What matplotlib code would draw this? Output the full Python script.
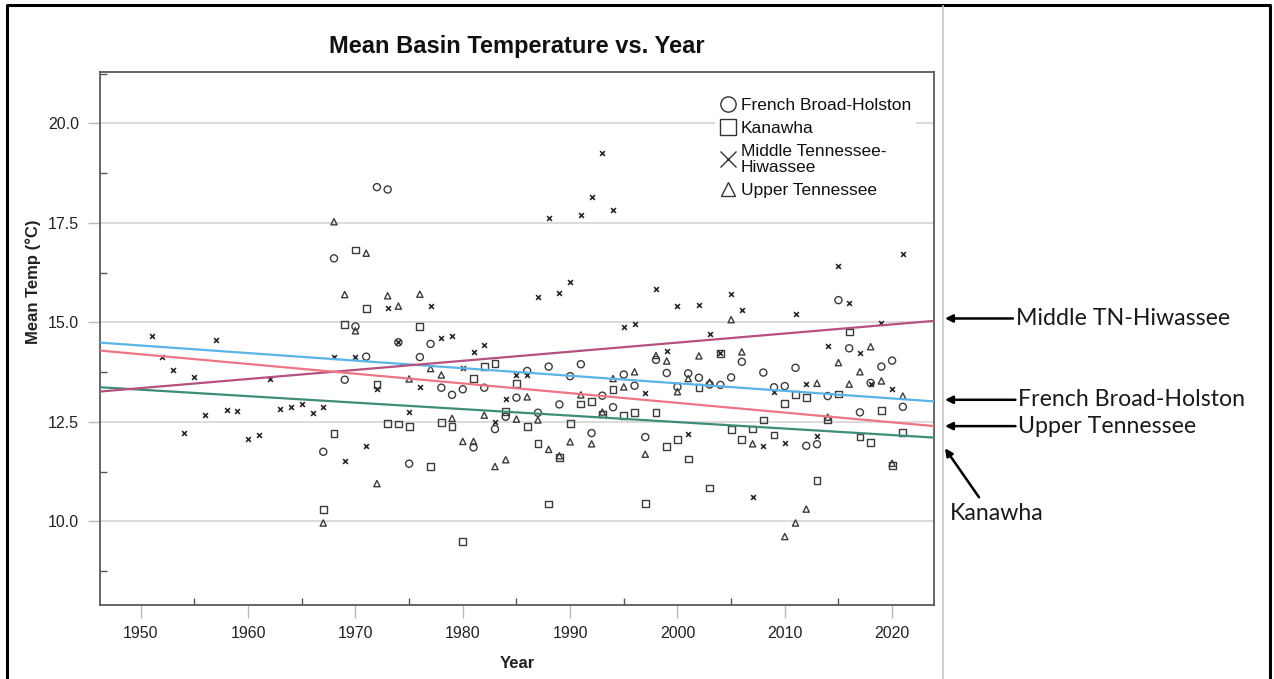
import numpy as np
import matplotlib
matplotlib.use("Agg")
import matplotlib.pyplot as plt
from matplotlib.lines import Line2D
from matplotlib.ticker import MultipleLocator

# values (year, mean temp in deg C)
fbh_years = [1967, 1968, 1969, 1970, 1971, 1972, 1973, 1974, 1975, 1976, 1977, 1978,
             1979, 1980, 1981, 1982, 1983, 1984, 1985, 1986, 1987, 1988, 1989, 1990,
             1991, 1992, 1993, 1994, 1995, 1996, 1997, 1998, 1999, 2000, 2001, 2002,
             2003, 2004, 2005, 2006, 2008, 2009, 2010, 2011, 2012, 2013, 2014, 2015,
             2016, 2017, 2018, 2019, 2020, 2021]
fbh_temp = [11.75, 16.61, 13.56, 14.90, 14.14, 18.40, 18.34, 14.50, 11.45, 14.13, 14.46, 13.36,
            13.18, 13.32, 11.86, 13.36, 12.32, 12.63, 13.11, 13.78, 12.73, 13.89, 12.94, 13.65,
            13.95, 12.22, 13.16, 12.87, 13.69, 13.41, 12.12, 14.06, 13.73, 13.38, 13.72, 13.61,
            13.44, 13.43, 13.62, 14.01, 13.74, 13.37, 13.40, 13.86, 11.90, 11.94, 13.15, 15.56,
            14.35, 12.74, 13.48, 13.89, 14.04, 12.88]

kan_years = [1967, 1968, 1969, 1970, 1971, 1972, 1973, 1974, 1975, 1976, 1977, 1978,
             1979, 1980, 1981, 1982, 1983, 1984, 1985, 1986, 1987, 1988, 1989, 1990,
             1991, 1992, 1993, 1994, 1995, 1996, 1997, 1998, 1999, 2000, 2001, 2002,
             2003, 2004, 2005, 2006, 2007, 2008, 2009, 2010, 2011, 2012, 2013, 2014,
             2015, 2016, 2017, 2018, 2019, 2020, 2021]
kan_temp = [10.29, 12.20, 14.95, 16.82, 15.35, 13.45, 12.46, 12.45, 12.38, 14.89, 11.38, 12.48,
            12.38, 9.50, 13.60, 13.90, 13.97, 12.77, 13.46, 12.38, 11.96, 10.44, 11.61, 12.47,
            12.95, 13.02, 12.70, 13.31, 12.67, 12.74, 10.46, 12.73, 11.88, 12.05, 11.57, 13.36,
            10.84, 14.22, 12.30, 12.05, 12.32, 12.55, 12.17, 12.97, 13.19, 13.12, 11.03, 12.57,
            13.20, 14.76, 12.12, 11.98, 12.78, 11.40, 12.23]

mth_years = list(range(1951, 2022))
mth_temp = [14.66, 14.12, 13.80, 12.21, 13.64, 12.68, 14.55, 12.81, 12.78, 12.06, 12.17, 13.58,
            12.82, 12.87, 12.95, 12.72, 12.87, 14.12, 11.52, 14.12, 11.89, 13.32, 15.37, 14.50,
            12.74, 13.39, 15.42, 14.60, 14.66, 13.86, 14.25, 14.43, 12.50, 13.07, 13.68, 13.68,
            15.65, 17.62, 15.75, 16.02, 17.70, 18.16, 19.25, 17.82, 14.89, 14.95, 13.23, 15.84,
            14.28, 15.41, 12.19, 15.43, 14.72, 14.22, 15.72, 15.31, 10.61, 11.90, 13.26, 11.96,
            15.21, 13.45, 12.15, 14.40, 16.43, 15.50, 14.22, 13.45, 14.99, 13.33, 16.71]

ut_years = [1967, 1968, 1969, 1970, 1971, 1972, 1973, 1974, 1975, 1976, 1977, 1978,
            1979, 1980, 1981, 1982, 1983, 1984, 1985, 1986, 1987, 1988, 1989, 1990,
            1991, 1992, 1993, 1994, 1995, 1996, 1997, 1998, 1999, 2000, 2001, 2002,
            2003, 2005, 2006, 2007, 2010, 2011, 2012, 2013, 2014, 2015, 2016, 2017,
            2018, 2019, 2020, 2021]
ut_temp = [9.96, 17.53, 15.70, 14.79, 16.74, 10.95, 15.67, 15.41, 13.58, 15.71, 13.84, 13.68,
           12.59, 12.01, 12.01, 12.67, 11.38, 11.55, 12.57, 13.13, 12.55, 11.81, 11.65, 12.00,
           13.18, 11.95, 12.75, 13.59, 13.38, 13.76, 11.69, 14.17, 14.03, 13.26, 13.59, 14.16,
           13.50, 15.07, 14.26, 11.95, 9.62, 9.96, 10.31, 13.47, 12.62, 13.99, 13.45, 13.76,
           14.39, 13.53, 11.46, 13.15]

# fitted lines, value at 1950 and at 2020 (FBH, Kanawha, Middle TN, Upper TN)
fit_names = ["French Broad-Holston", "Kanawha", "Middle TN-Hiwassee", "Upper Tennessee"]
fit_1950 = [14.42, 13.31, 13.35, 14.20]
fit_2020 = [13.09, 12.17, 14.95, 12.49]
fit_colors = ["#5ab4e6", "#3f8c7b", "#b5517f", "#ee7586"]

plt.rcParams["font.family"] = ["Liberation Sans", "DejaVu Sans"]

fig = plt.figure(figsize=(12.74, 6.79), dpi=100)
ax = fig.add_axes([0.0785, 0.109, 0.6546, 0.7854])

xmin, xmax = 1946.2, 2023.9
ax.set_xlim(xmin, xmax)
ax.set_ylim(7.9, 21.3)

pt = "#3c3c3c"
ax.scatter(fbh_years, fbh_temp, marker="o", s=26, facecolors="none", edgecolors=pt, linewidths=1.0, zorder=3)
ax.scatter(kan_years, kan_temp, marker="s", s=24, facecolors="none", edgecolors=pt, linewidths=1.0, zorder=3)
ax.scatter(mth_years, mth_temp, marker="x", s=12, c="#2a2a2a", linewidths=1.2, zorder=3)
ax.scatter(ut_years, ut_temp, marker="^", s=20, facecolors="none", edgecolors=pt, linewidths=1.0, zorder=3)

xx = np.array([xmin, xmax])
for a, b, col in zip(fit_1950, fit_2020, fit_colors):
    slope = (b - a) / 70.0
    ax.plot(xx, a + slope * (xx - 1950), color=col, lw=1.6, zorder=4)

ax.set_yticks([10.0, 12.5, 15.0, 17.5, 20.0])
ax.set_yticklabels(["10.0", "12.5", "15.0", "17.5", "20.0"])
ax.set_xticks(range(1950, 2021, 10))
ax.xaxis.set_minor_locator(MultipleLocator(5))
ax.yaxis.set_minor_locator(MultipleLocator(1.25))
ax.tick_params(which="major", direction="out", length=9, color="#b8b8b8", width=1,
               labelsize=11.5, labelcolor="#222222", pad=6)
ax.tick_params(which="minor", direction="in", length=5, color="#555555", width=1)
ax.grid(axis="y", which="major", color="#d4d4d4", lw=1.2, zorder=0)
ax.set_axisbelow(True)
for s in ax.spines.values():
    s.set_color("#5a5a5a")
    s.set_linewidth(1.3)

fig.text(0.4058, 0.931, "Mean Basin Temperature vs. Year", ha="center", va="center",
         fontsize=17, fontweight="bold", color="#111111")
fig.text(0.4058, 0.0235, "Year", ha="center", va="center", fontsize=12, fontweight="bold", color="#222222")
fig.text(0.026, 0.585, "Mean Temp (\u00b0C)", rotation=90, ha="center", va="center",
         fontsize=12, fontweight="bold", color="#222222")

handles = [
    Line2D([], [], ls="none", marker="o", mfc="none", mec="#333333", ms=11, mew=1),
    Line2D([], [], ls="none", marker="s", mfc="none", mec="#333333", ms=11, mew=1),
    Line2D([], [], ls="none", marker="x", color="#333333", ms=11, mew=1),
    Line2D([], [], ls="none", marker="^", mfc="none", mec="#333333", ms=10, mew=1),
]
labels = ["French Broad-Holston", "Kanawha", "Middle Tennessee-\nHiwassee", "Upper Tennessee"]
leg = ax.legend(handles, labels, loc="upper left", bbox_to_anchor=(0.737, 0.961),
                frameon=True, fancybox=False, edgecolor="none", facecolor="white", framealpha=1,
                fontsize=12.5, handlelength=0.9, handletextpad=0.3, labelspacing=0.45,
                borderpad=0.3, borderaxespad=0)
for t in leg.get_texts():
    t.set_color("#111111")
    t.set_linespacing(1.1)

# arrows pointing at the right-hand ends of the fitted lines
ann_font = dict(fontsize=16.7, family=["Lato", "DejaVu Sans"], color="#1a1a1a")
arrow = dict(arrowstyle="-|>", color="black", lw=1.8, mutation_scale=11, shrinkA=0, shrinkB=0,
             relpos=(0, 0.5))
tc = ("axes fraction", "data")
ends = {n: a + (b - a) / 70.0 * (xmax - 1950) for n, a, b in zip(fit_names, fit_1950, fit_2020)}
ax.annotate("Middle TN-Hiwassee", xy=(1.0132, ends["Middle TN-Hiwassee"] + 0.06), xycoords=tc,
            xytext=(1.098, ends["Middle TN-Hiwassee"] + 0.06), textcoords=tc,
            ha="left", va="center", arrowprops=arrow, annotation_clip=False, **ann_font)
ax.annotate("French Broad-Holston", xy=(1.0132, ends["French Broad-Holston"] + 0.04), xycoords=tc,
            xytext=(1.101, ends["French Broad-Holston"] + 0.04), textcoords=tc,
            ha="left", va="center", arrowprops=arrow, annotation_clip=False, **ann_font)
ax.annotate("Upper Tennessee", xy=(1.0132, ends["Upper Tennessee"]), xycoords=tc,
            xytext=(1.101, ends["Upper Tennessee"]), textcoords=tc,
            ha="left", va="center", arrowprops=arrow, annotation_clip=False, **ann_font)
ax.annotate("", xy=(1.0132, ends["Kanawha"] - 0.27), xycoords=tc,
            xytext=(1.054, ends["Kanawha"] - 1.5), textcoords=tc,
            arrowprops=dict(arrowstyle="-|>", color="black", lw=1.8, mutation_scale=11,
                            shrinkA=0, shrinkB=0), annotation_clip=False)
ax.text(1.019, ends["Kanawha"] - 1.9, "Kanawha", transform=ax.get_yaxis_transform(),
        ha="left", va="center", clip_on=False, **ann_font)

# slide frame around the chart
W, H = 1274.0, 679.0
fig.add_artist(Line2D([7 / W, 7 / W, 1270 / W, 1270 / W], [0, 1 - 5 / H, 1 - 5 / H, 0],
                      transform=fig.transFigure, color="black", lw=2.2))
fig.add_artist(Line2D([943 / W, 943 / W], [0, 1 - 6 / H], transform=fig.transFigure,
                      color="#c8c8c8", lw=1.2))

fig.savefig("out.png", dpi=100)
